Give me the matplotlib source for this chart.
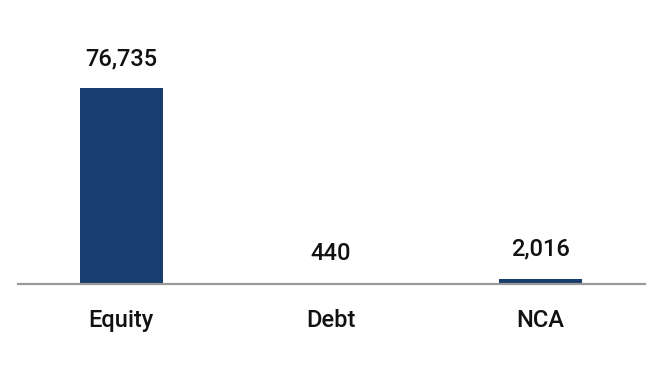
import matplotlib
matplotlib.use('Agg')
import matplotlib.pyplot as plt

plt.rcParams['font.family'] = ['Roboto', 'DejaVu Sans']

categories = ['Equity', 'Debt', 'NCA']
values = [76735, 440, 2016]
BAR_COLOR = '#1a3d6f'

fig = plt.figure(figsize=(6.57, 3.70), dpi=100)
ax = fig.add_axes([18/657, 86/370, 627/657, 254/370])
x = list(range(len(categories)))
ax.bar(x, values, width=0.395, color=BAR_COLOR)
ax.set_xlim(-0.493, 2.498)
ax.set_ylim(0, 76735 * 254 / 196)

for xi, v in zip(x, values):
    ax.annotate(f'{v:,}', (xi, v), xytext=(0, 13), textcoords='offset points',
                ha='center', va='bottom', fontsize=17, fontweight='medium', color='#111111')

ax.set_xticks(x)
ax.set_xticklabels(categories, fontsize=17, fontweight='medium', color='#111111')
ax.tick_params(axis='x', length=0, pad=18)
ax.set_yticks([])
for s in ['top', 'right', 'left']:
    ax.spines[s].set_visible(False)
ax.spines['bottom'].set_color('#999999')
ax.spines['bottom'].set_linewidth(1.6)

fig.savefig('out.png', dpi=100, facecolor='white')
